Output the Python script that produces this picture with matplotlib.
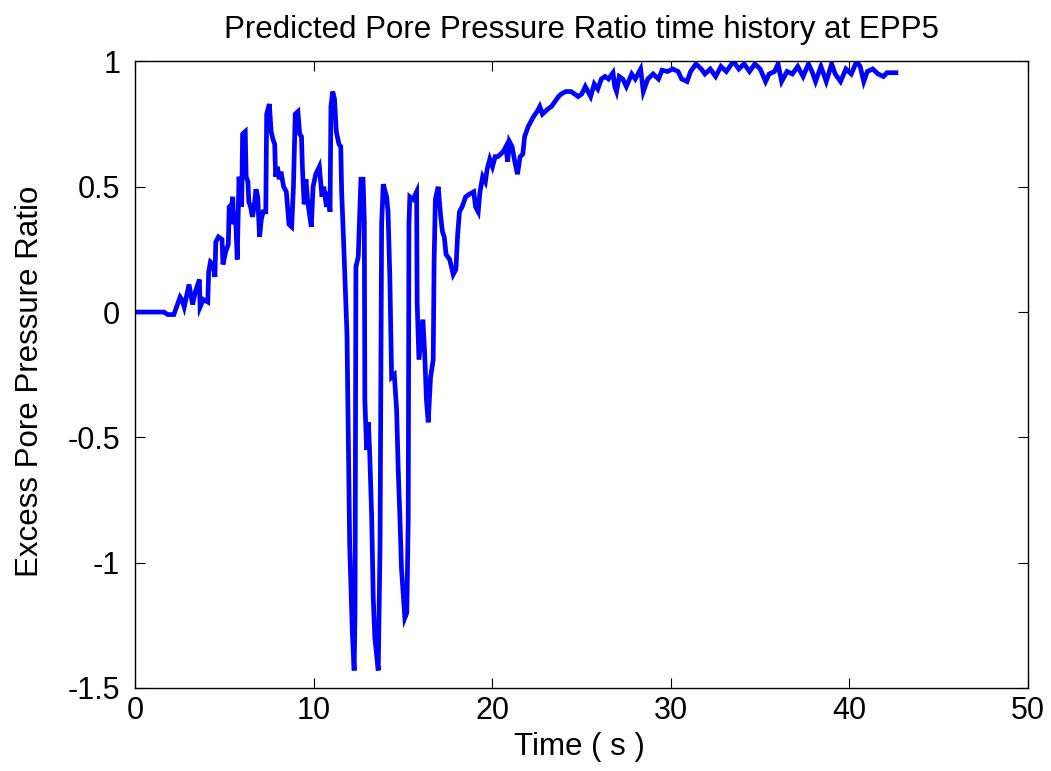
import matplotlib
matplotlib.use("Agg")
import matplotlib.pyplot as plt

plt.rcParams['font.family'] = ['Liberation Sans', 'DejaVu Sans']
plt.rcParams['axes.unicode_minus'] = False

# ---- data (time in s, pore pressure ratio) ----
time_s = [
    0.0, 1.6, 1.8, 2.15, 2.35, 2.5, 2.6, 2.73, 2.85, 3.0, 3.1, 3.2, 3.35, 3.58, 3.62, 3.8,
    4.05, 4.1, 4.2, 4.35, 4.45, 4.5, 4.65, 4.85, 4.9, 5.05, 5.2, 5.25, 5.4, 5.45, 5.5, 5.6,
    5.7, 5.75, 5.8, 5.95, 6.0, 6.15, 6.2, 6.3, 6.35, 6.45, 6.55, 6.65, 6.75, 6.85, 6.95, 7.05,
    7.15, 7.3, 7.35, 7.5, 7.6, 7.7, 7.8, 7.85, 7.95, 8.05, 8.15, 8.3, 8.45, 8.6, 8.75, 8.85,
    8.95, 9.1, 9.2, 9.3, 9.35, 9.45, 9.55, 9.65, 9.75, 9.85, 9.95, 10.1, 10.3, 10.45, 10.55, 10.7,
    10.8, 10.9, 10.95, 11.05, 11.15, 11.25, 11.4, 11.5, 11.55, 11.65, 11.75, 11.85, 11.92, 12.0, 12.15, 12.25,
    12.3, 12.35, 12.48, 12.57, 12.63, 12.75, 12.82, 12.85, 12.95, 13.05, 13.13, 13.23, 13.32, 13.41, 13.6, 13.7,
    13.79, 13.88, 14.07, 14.15, 14.25, 14.35, 14.5, 14.63, 14.72, 14.81, 14.9, 15.09, 15.2, 15.28, 15.32, 15.37,
    15.55, 15.75, 15.78, 15.88, 16.1, 16.2, 16.3, 16.4, 16.53, 16.68, 16.73, 16.8, 16.96, 17.1, 17.2, 17.3,
    17.4, 17.6, 17.8, 17.95, 18.05, 18.15, 18.3, 18.5, 18.7, 18.95, 19.05, 19.2, 19.3, 19.45, 19.6, 19.7,
    19.85, 20.0, 20.15, 20.3, 20.6, 20.75, 20.85, 20.95, 21.1, 21.25, 21.4, 21.55, 21.7, 21.8, 22.0, 22.15,
    22.3, 22.5, 22.65, 22.8, 22.95, 23.1, 23.3, 23.5, 23.7, 23.85, 24.1, 24.4, 24.6, 24.8, 25.0, 25.2,
    25.35, 25.5, 25.7, 25.9, 26.1, 26.3, 26.5, 26.75, 26.85, 26.95, 27.1, 27.3, 27.5, 27.8, 28.0, 28.3,
    28.45, 28.7, 29.0, 29.3, 29.5, 29.8, 30.1, 30.4, 30.6, 30.9, 31.1, 31.4, 31.7, 31.9, 32.2, 32.5,
    32.8, 33.1, 33.5, 33.8, 34.1, 34.4, 34.7, 35.0, 35.3, 35.5, 35.8, 36.0, 36.2, 36.5, 36.8, 37.1,
    37.4, 37.7, 37.9, 38.1, 38.4, 38.7, 39.0, 39.2, 39.5, 39.8, 40.1, 40.4, 40.6, 40.8, 41.0, 41.3,
    41.6, 41.9, 42.1, 42.6,
]
ratio = [
    0.0, 0.0, -0.01, -0.01, 0.03, 0.06, 0.05, 0.02, 0.06, 0.11, 0.07, 0.03, 0.08, 0.13, 0.02, 0.05,
    0.04, 0.16, 0.2, 0.19, 0.14, 0.28, 0.30, 0.29, 0.19, 0.24, 0.27, 0.42, 0.43, 0.46, 0.35, 0.40,
    0.21, 0.38, 0.54, 0.42, 0.71, 0.72, 0.54, 0.52, 0.44, 0.42, 0.38, 0.42, 0.49, 0.46, 0.30, 0.37,
    0.40, 0.40, 0.79, 0.83, 0.72, 0.69, 0.67, 0.54, 0.58, 0.53, 0.56, 0.50, 0.48, 0.35, 0.34, 0.50,
    0.79, 0.80, 0.71, 0.70, 0.58, 0.43, 0.53, 0.44, 0.39, 0.34, 0.50, 0.55, 0.58, 0.46, 0.50, 0.42,
    0.48, 0.40, 0.82, 0.88, 0.85, 0.72, 0.67, 0.66, 0.48, 0.30, 0.10, -0.09, -0.49, -0.93, -1.28, -1.43,
    -1.2, 0.18, 0.22, 0.40, 0.53, 0.53, 0.36, -0.35, -0.55, -0.44, -0.58, -0.81, -1.14, -1.30, -1.43, -0.94,
    0.35, 0.51, 0.46, 0.40, 0.14, -0.26, -0.25, -0.39, -0.63, -0.81, -1.02, -1.22, -1.2, -0.83, 0.35, 0.46,
    0.45, 0.48, 0.04, -0.19, -0.03, -0.16, -0.35, -0.44, -0.26, -0.19, 0.20, 0.45, 0.50, 0.38, 0.32, 0.30,
    0.23, 0.21, 0.15, 0.17, 0.31, 0.40, 0.42, 0.46, 0.47, 0.48, 0.42, 0.40, 0.48, 0.54, 0.52, 0.57,
    0.61, 0.58, 0.62, 0.62, 0.64, 0.66, 0.60, 0.68, 0.66, 0.60, 0.55, 0.62, 0.63, 0.70, 0.74, 0.76,
    0.78, 0.80, 0.82, 0.79, 0.80, 0.81, 0.82, 0.84, 0.86, 0.87, 0.88, 0.88, 0.87, 0.86, 0.87, 0.90,
    0.88, 0.86, 0.91, 0.89, 0.93, 0.94, 0.93, 0.955, 0.90, 0.88, 0.94, 0.93, 0.90, 0.95, 0.93, 0.97,
    0.88, 0.93, 0.95, 0.93, 0.965, 0.96, 0.97, 0.96, 0.93, 0.92, 0.96, 0.99, 0.97, 0.95, 0.97, 0.94,
    0.98, 0.96, 1.0, 0.97, 0.99, 0.96, 0.99, 0.97, 0.92, 0.95, 0.96, 0.99, 0.92, 0.96, 0.95, 0.98,
    0.94, 0.99, 0.96, 0.92, 0.98, 0.92, 0.99, 0.95, 0.92, 0.97, 0.95, 1.0, 0.98, 0.92, 0.96, 0.97,
    0.95, 0.94, 0.955, 0.955,
]

x_ticks = [0, 10, 20, 30, 40, 50]
y_ticks = [-1.5, -1, -0.5, 0, 0.5, 1]
y_tick_labels = ['-1.5', '-1', '-0.5', '0', '0.5', '1']

fig = plt.figure(figsize=(10.51, 7.71), dpi=100)
ax = fig.add_axes([0.1289, 0.1077, 0.8492, 0.8126])

ax.plot(time_s, ratio, color='#0000ff', linewidth=3.4, solid_joinstyle='miter')

ax.set_xlim(0, 50)
ax.set_ylim(-1.5, 1)
ax.set_xticks(x_ticks)
ax.set_xticklabels([str(v) for v in x_ticks])
ax.set_yticks(y_ticks)
ax.set_yticklabels(y_tick_labels)

ax.tick_params(direction='in', length=7, width=0.8, top=True, right=True,
               labelsize=22, colors='black')
ax.tick_params(axis='x', pad=6)
ax.tick_params(axis='y', pad=11)
for s in ax.spines.values():
    s.set_linewidth(1.0)

ax.set_title('Predicted Pore Pressure Ratio time history at EPP5', fontsize=22.5, pad=17)
ax.set_xlabel('Time ( s )', fontsize=22.5)
ax.set_ylabel('Excess Pore Pressure Ratio', fontsize=22.5)
ax.xaxis.set_label_coords(0.497, -0.07)
ax.yaxis.set_label_coords(-0.101, 0.49)

fig.savefig('out.png', dpi=100)
